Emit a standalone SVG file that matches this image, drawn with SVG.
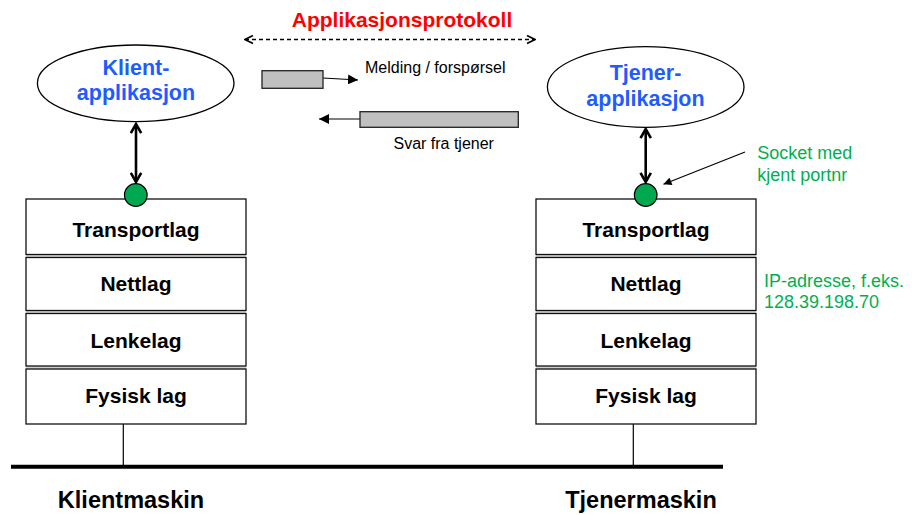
<svg xmlns="http://www.w3.org/2000/svg" width="912" height="515" viewBox="0 0 912 515">
<style>
text{font-family:"Liberation Sans",Arial,sans-serif}
.b{font-weight:bold}
.lay{font-size:21px;font-weight:bold;fill:#000;text-anchor:middle}
.app{font-size:21.5px;font-weight:bold;fill:#1f5cff;text-anchor:middle}
.grn{font-size:18px;fill:#00b050}
.sm{font-size:16px;fill:#000}
.box{fill:#fff;stroke:#111;stroke-width:1.3}
.sep{fill:#d0d0d0;stroke:none}
.ell{fill:#fff;stroke:#000;stroke-width:1.3}
.sock{fill:#00a84f;stroke:#000;stroke-width:1.2}
.msg{fill:#c0c0c0;stroke:#222;stroke-width:1.3}
.thin{stroke:#000;stroke-width:1.2;fill:none}
</style>
<defs>
<marker id="chev" viewBox="0 0 10 10" refX="9" refY="5" markerWidth="10" markerHeight="10" markerUnits="userSpaceOnUse" orient="auto-start-reverse">
<path d="M1,1 L9,5 L1,9" fill="none" stroke="#000" stroke-width="1.6"/>
</marker>
<marker id="chevB" viewBox="0 0 10 10" refX="8.5" refY="5" markerWidth="13" markerHeight="13" markerUnits="userSpaceOnUse" orient="auto-start-reverse">
<path d="M1.5,1 L8.5,5 L1.5,9" fill="none" stroke="#000" stroke-width="2"/>
</marker>
<marker id="tri" viewBox="0 0 10 10" refX="10" refY="5" markerWidth="10" markerHeight="10" markerUnits="userSpaceOnUse" orient="auto">
<path d="M0,0 L10,5 L0,10 Z" fill="#000"/>
</marker>
<marker id="triS" viewBox="0 0 10 10" refX="10" refY="5" markerWidth="9" markerHeight="8" markerUnits="userSpaceOnUse" orient="auto">
<path d="M0,0 L10,5 L0,10 Z" fill="#000"/>
</marker>
</defs>

<text id="title" class="b" x="402" y="27" font-size="21" fill="#ff0000" text-anchor="middle">Applikasjonsprotokoll</text>

<g id="connectors">
<line x1="245" y1="39.5" x2="535" y2="39.5" stroke="#000" stroke-width="1.3" stroke-dasharray="4,3" marker-start="url(#chev)" marker-end="url(#chev)"/>
<line x1="136" y1="124" x2="136" y2="182" stroke="#000" stroke-width="2.6" marker-start="url(#chevB)" marker-end="url(#chevB)"/>
<line x1="645.7" y1="129" x2="645.7" y2="182" stroke="#000" stroke-width="2.6" marker-start="url(#chevB)" marker-end="url(#chevB)"/>
<line x1="323" y1="78" x2="358" y2="80" class="thin" marker-end="url(#tri)"/>
<line x1="360" y1="119" x2="319" y2="119" class="thin" marker-end="url(#tri)"/>
<line x1="745" y1="152" x2="663.5" y2="184.2" class="thin" marker-end="url(#triS)"/>
<line x1="123.3" y1="424" x2="123.3" y2="467" class="thin"/>
<line x1="633.3" y1="424" x2="633.3" y2="467" class="thin"/>
<line x1="11" y1="466.7" x2="723" y2="466.7" stroke="#000" stroke-width="4"/>
</g>

<g id="klient-app">
<ellipse class="ell" cx="135.7" cy="83.3" rx="98.3" ry="38.3"/>
<text class="app" x="136" y="74.5">Klient-</text>
<text class="app" x="136" y="100">applikasjon</text>
</g>

<g id="tjener-app">
<ellipse class="ell" cx="645.7" cy="87" rx="98.3" ry="40.3"/>
<text class="app" x="645.5" y="80">Tjener-</text>
<text class="app" x="645.5" y="105.7">applikasjon</text>
</g>

<g id="melding">
<rect class="msg" x="262" y="70.7" width="61" height="17.6"/>
<text class="sm" x="365" y="72.7">Melding / forspørsel</text>
</g>

<g id="svar">
<rect class="msg" x="360" y="111.7" width="158.3" height="15.6"/>
<text class="sm" x="443.7" y="149.3" text-anchor="middle">Svar fra tjener</text>
</g>

<g id="klient-stack">
<rect class="sep" x="26" y="254.5" width="220" height="3"/>
<rect class="sep" x="26" y="310.5" width="220" height="3"/>
<rect class="sep" x="26" y="366" width="220" height="3"/>
<rect class="box" x="26" y="199" width="220" height="55.5"/>
<rect class="box" x="26" y="257.5" width="220" height="53"/>
<rect class="box" x="26" y="313.5" width="220" height="52.5"/>
<rect class="box" x="26" y="369" width="220" height="55"/>
<text class="lay" x="136" y="237">Transportlag</text>
<text class="lay" x="136" y="291">Nettlag</text>
<text class="lay" x="136" y="348.3">Lenkelag</text>
<text class="lay" x="136" y="403.3">Fysisk lag</text>
</g>

<g id="tjener-stack">
<rect class="sep" x="536" y="254.5" width="220" height="3"/>
<rect class="sep" x="536" y="310.5" width="220" height="3"/>
<rect class="sep" x="536" y="366" width="220" height="3"/>
<rect class="box" x="536" y="199" width="220" height="55.5"/>
<rect class="box" x="536" y="257.5" width="220" height="53"/>
<rect class="box" x="536" y="313.5" width="220" height="52.5"/>
<rect class="box" x="536" y="369" width="220" height="55"/>
<text class="lay" x="646" y="237">Transportlag</text>
<text class="lay" x="646" y="291">Nettlag</text>
<text class="lay" x="646" y="348.3">Lenkelag</text>
<text class="lay" x="646" y="403.3">Fysisk lag</text>
</g>

<g id="klient-socket">
<circle class="sock" cx="135.8" cy="195" r="11.3"/>
</g>
<g id="tjener-socket">
<circle class="sock" cx="645.7" cy="195" r="11.3"/>
</g>

<g id="socket-note">
<text class="grn" x="757.3" y="159">Socket med</text>
<text class="grn" x="757.3" y="180.7">kjent portnr</text>
</g>

<g id="ip-note">
<text class="grn" x="764" y="286.7">IP-adresse, f.eks.</text>
<text class="grn" x="764" y="308.3">128.39.198.70</text>
</g>

<g id="klientmaskin">
<text class="b" x="131" y="508" font-size="23.5" text-anchor="middle">Klientmaskin</text>
</g>
<g id="tjenermaskin">
<text class="b" x="641" y="508" font-size="23.5" text-anchor="middle">Tjenermaskin</text>
</g>
</svg>
